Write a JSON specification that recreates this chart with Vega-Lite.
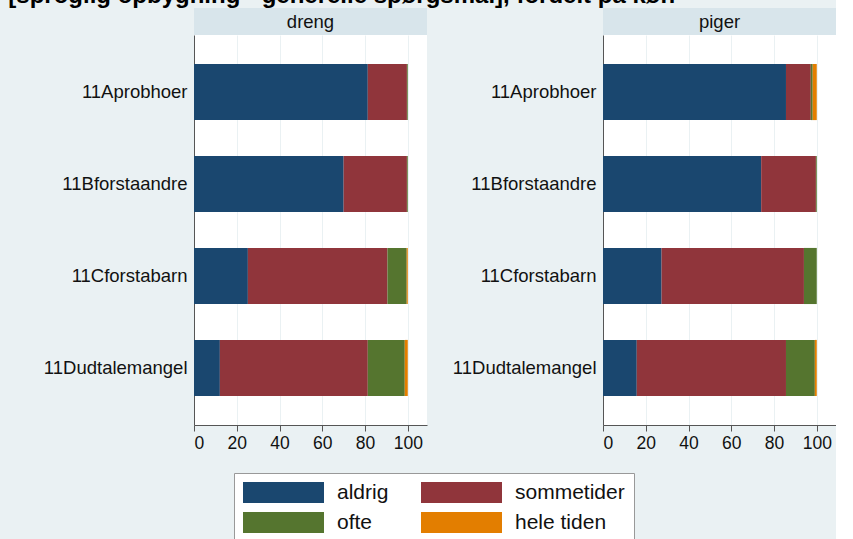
{
  "$schema": "https://vega.github.io/schema/vega-lite/v6.json",
  "background": "#eaf1f3",
  "padding": {"left": 8, "top": -16, "right": 0, "bottom": 0},
  "title": {"text": "[sproglig opbygning - generelle spørgsmål], fordelt på køn", "anchor": "start", "dx": -35, "offset": 0, "font": "Liberation Sans", "fontSize": 24, "fontWeight": "bold", "color": "#000000"},
  "data": {"values": [
    {"g": "dreng", "item": "11Aprobhoer", "resp": "aldrig", "k": 1, "pct": 81.3},
    {"g": "dreng", "item": "11Aprobhoer", "resp": "sommetider", "k": 2, "pct": 18.3},
    {"g": "dreng", "item": "11Aprobhoer", "resp": "ofte", "k": 3, "pct": 0.4},
    {"g": "dreng", "item": "11Aprobhoer", "resp": "hele tiden", "k": 4, "pct": 0},
    {"g": "dreng", "item": "11Bforstaandre", "resp": "aldrig", "k": 1, "pct": 70.0},
    {"g": "dreng", "item": "11Bforstaandre", "resp": "sommetider", "k": 2, "pct": 29.6},
    {"g": "dreng", "item": "11Bforstaandre", "resp": "ofte", "k": 3, "pct": 0.4},
    {"g": "dreng", "item": "11Bforstaandre", "resp": "hele tiden", "k": 4, "pct": 0},
    {"g": "dreng", "item": "11Cforstabarn", "resp": "aldrig", "k": 1, "pct": 25.2},
    {"g": "dreng", "item": "11Cforstabarn", "resp": "sommetider", "k": 2, "pct": 65.3},
    {"g": "dreng", "item": "11Cforstabarn", "resp": "ofte", "k": 3, "pct": 9.0},
    {"g": "dreng", "item": "11Cforstabarn", "resp": "hele tiden", "k": 4, "pct": 0.5},
    {"g": "dreng", "item": "11Dudtalemangel", "resp": "aldrig", "k": 1, "pct": 12.1},
    {"g": "dreng", "item": "11Dudtalemangel", "resp": "sommetider", "k": 2, "pct": 69.2},
    {"g": "dreng", "item": "11Dudtalemangel", "resp": "ofte", "k": 3, "pct": 17.3},
    {"g": "dreng", "item": "11Dudtalemangel", "resp": "hele tiden", "k": 4, "pct": 1.4},
    {"g": "piger", "item": "11Aprobhoer", "resp": "aldrig", "k": 1, "pct": 85.6},
    {"g": "piger", "item": "11Aprobhoer", "resp": "sommetider", "k": 2, "pct": 11.6},
    {"g": "piger", "item": "11Aprobhoer", "resp": "ofte", "k": 3, "pct": 0.9},
    {"g": "piger", "item": "11Aprobhoer", "resp": "hele tiden", "k": 4, "pct": 1.9},
    {"g": "piger", "item": "11Bforstaandre", "resp": "aldrig", "k": 1, "pct": 74.0},
    {"g": "piger", "item": "11Bforstaandre", "resp": "sommetider", "k": 2, "pct": 25.6},
    {"g": "piger", "item": "11Bforstaandre", "resp": "ofte", "k": 3, "pct": 0.4},
    {"g": "piger", "item": "11Bforstaandre", "resp": "hele tiden", "k": 4, "pct": 0},
    {"g": "piger", "item": "11Cforstabarn", "resp": "aldrig", "k": 1, "pct": 27.4},
    {"g": "piger", "item": "11Cforstabarn", "resp": "sommetider", "k": 2, "pct": 66.6},
    {"g": "piger", "item": "11Cforstabarn", "resp": "ofte", "k": 3, "pct": 6.0},
    {"g": "piger", "item": "11Cforstabarn", "resp": "hele tiden", "k": 4, "pct": 0},
    {"g": "piger", "item": "11Dudtalemangel", "resp": "aldrig", "k": 1, "pct": 15.8},
    {"g": "piger", "item": "11Dudtalemangel", "resp": "sommetider", "k": 2, "pct": 69.8},
    {"g": "piger", "item": "11Dudtalemangel", "resp": "ofte", "k": 3, "pct": 13.5},
    {"g": "piger", "item": "11Dudtalemangel", "resp": "hele tiden", "k": 4, "pct": 0.9}
  ]},
  "spacing": 25,
  "hconcat": [
    {
      "spacing": 0,
      "vconcat": [
        {
          "width": 233, "height": 27,
          "view": {"fill": "#d8e5eb", "stroke": null},
          "transform": [{"filter": "datum.g === 'dreng'"}, {"aggregate": [{"op": "count", "as": "n"}], "groupby": ["g"]}],
          "mark": {"type": "text", "font": "Liberation Sans", "fontSize": 18.5, "color": "#111111"},
          "encoding": {"text": {"field": "g", "type": "nominal"}}
        },
        {
          "width": 233, "height": 390,
          "view": {"fill": "#ffffff", "stroke": null},
          "transform": [{"filter": "datum.g === 'dreng'"}],
          "mark": {"type": "bar"},
          "encoding": {
            "y": {"field": "item", "type": "nominal", "sort": ["11Aprobhoer", "11Bforstaandre", "11Cforstabarn", "11Dudtalemangel"], "scale": {"paddingInner": 0.39, "paddingOuter": 0.315}, "axis": {"title": null, "ticks": false, "domainColor": "#555555", "labelFontSize": 18.5, "labelFont": "Liberation Sans", "labelColor": "#111111", "labelPadding": 7, "minExtent": 150, "maxExtent": 150}},
            "x": {"field": "pct", "type": "quantitative", "stack": "zero", "scale": {"domain": [0, 109], "nice": false}, "axis": {"title": null, "values": [0, 20, 40, 60, 80, 100], "grid": true, "gridColor": "#eaf1f3", "domainColor": "#555555", "tickColor": "#555555", "tickSize": 6, "labelFontSize": 17.5, "labelFont": "Liberation Sans", "labelColor": "#111111", "labelPadding": 3}},
            "color": {"field": "resp", "type": "nominal", "scale": {"domain": ["aldrig", "sommetider", "ofte", "hele tiden"], "range": ["#1a476f", "#90353b", "#55752f", "#e37e00"]}},
            "order": {"field": "k", "type": "quantitative"}
          }
        }
      ]
    },
    {
      "spacing": 0,
      "vconcat": [
        {
          "width": 233, "height": 27,
          "view": {"fill": "#d8e5eb", "stroke": null},
          "transform": [{"filter": "datum.g === 'piger'"}, {"aggregate": [{"op": "count", "as": "n"}], "groupby": ["g"]}],
          "mark": {"type": "text", "font": "Liberation Sans", "fontSize": 18.5, "color": "#111111"},
          "encoding": {"text": {"field": "g", "type": "nominal"}}
        },
        {
          "width": 233, "height": 390,
          "view": {"fill": "#ffffff", "stroke": null},
          "transform": [{"filter": "datum.g === 'piger'"}],
          "mark": {"type": "bar"},
          "encoding": {
            "y": {"field": "item", "type": "nominal", "sort": ["11Aprobhoer", "11Bforstaandre", "11Cforstabarn", "11Dudtalemangel"], "scale": {"paddingInner": 0.39, "paddingOuter": 0.315}, "axis": {"title": null, "ticks": false, "domainColor": "#555555", "labelFontSize": 18.5, "labelFont": "Liberation Sans", "labelColor": "#111111", "labelPadding": 7, "minExtent": 150, "maxExtent": 150}},
            "x": {"field": "pct", "type": "quantitative", "stack": "zero", "scale": {"domain": [0, 109], "nice": false}, "axis": {"title": null, "values": [0, 20, 40, 60, 80, 100], "grid": true, "gridColor": "#eaf1f3", "domainColor": "#555555", "tickColor": "#555555", "tickSize": 6, "labelFontSize": 17.5, "labelFont": "Liberation Sans", "labelColor": "#111111", "labelPadding": 3}},
            "color": {"field": "resp", "type": "nominal", "scale": {"domain": ["aldrig", "sommetider", "ofte", "hele tiden"], "range": ["#1a476f", "#90353b", "#55752f", "#e37e00"]}},
            "order": {"field": "k", "type": "quantitative"}
          }
        }
      ]
    }
  ],
  "resolve": {"scale": {"color": "shared"}},
  "config": {
    "view": {"stroke": null},
    "legend": {
      "orient": "none", "legendX": 40, "legendY": 465,
      "direction": "horizontal", "columns": 2,
      "title": null,
      "symbolType": "M-1,-1L6.714,-1L6.714,1L-1,1Z",
      "symbolSize": 441, "symbolStrokeWidth": 0, "symbolOpacity": 1,
      "labelFont": "Liberation Sans", "labelFontSize": 21, "labelColor": "#111111",
      "labelOffset": 73, "columnPadding": 32, "rowPadding": 8,
      "padding": 9, "fillColor": "#ffffff", "strokeColor": "#999999"
    }
  }
}
